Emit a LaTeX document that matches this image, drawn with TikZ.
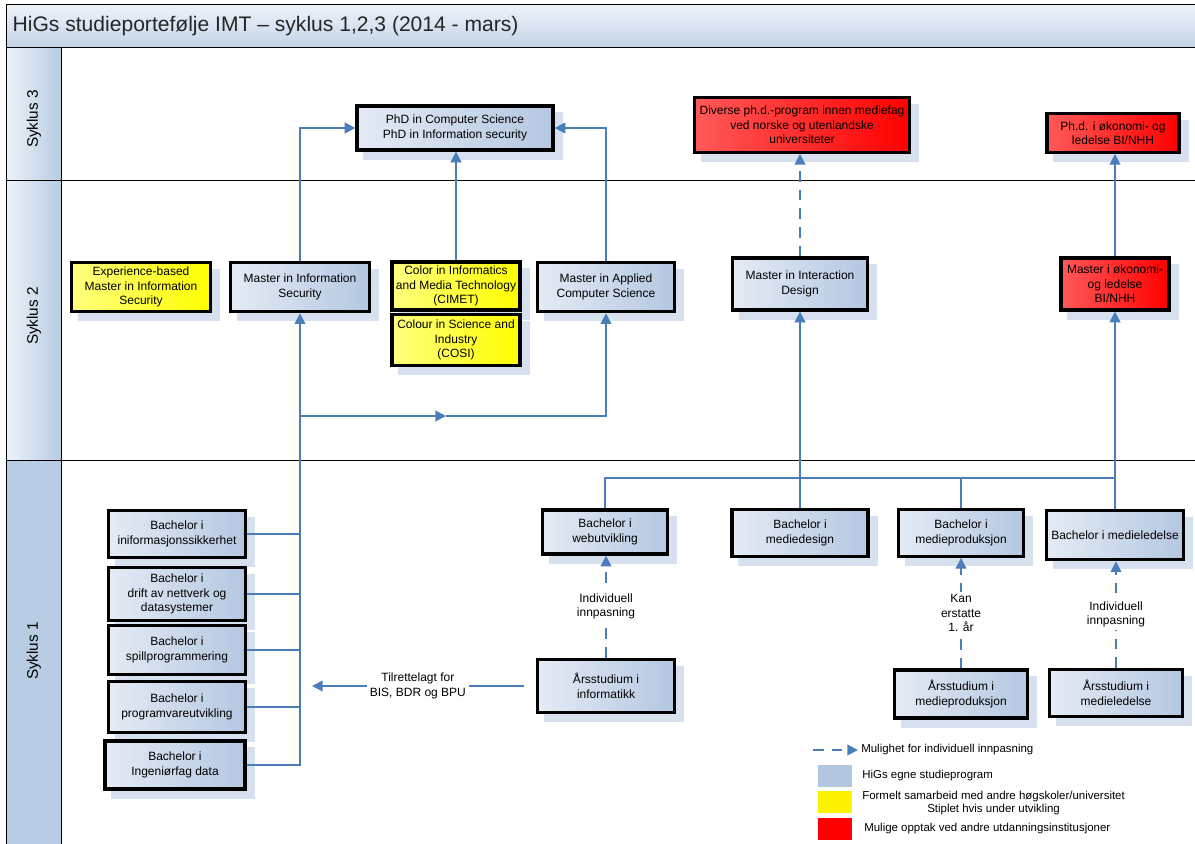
\documentclass[tikz,border=0pt]{standalone}
\usepackage{fontspec}
\setmainfont{Liberation Sans}
\usetikzlibrary{arrows.meta, positioning, backgrounds, calc}
\definecolor{progleft}{RGB}{228,235,245}
\definecolor{progright}{RGB}{180,199,225}
\definecolor{shadowblue}{RGB}{214,224,239}
\definecolor{flowblue}{RGB}{74,126,187}
\definecolor{laneblue}{RGB}{184,204,228}
\definecolor{titleblue}{RGB}{197,213,234}
\definecolor{legendblue}{RGB}{179,198,224}

\tikzset{
  box/.style={draw=black, line width=2.4pt, align=center, inner sep=1pt,
    font=\fontsize{9}{10.8}\selectfont},
  prog/.style={box, left color=progleft, right color=progright},
  coop/.style={box, left color=yellow!50!white, middle color=yellow, right color=yellow},
  ext/.style={box, left color=red!65!white, middle color=red, right color=red},
  link/.style={flowblue, line width=1.3pt},
  flow/.style={link, -{Triangle[length=8pt,width=8pt]}},
  maybe/.style={flow, dash pattern=on 8pt off 6pt},
  tag/.style={fill=white, text=black, align=center, inner sep=2pt, font=\fontsize{9}{10.8}\selectfont},
  lanelabel/.style={rotate=90, font=\fontsize{11.5}{13}\selectfont},
  legtext/.style={anchor=west, align=center, inner sep=0pt, font=\fontsize{8.6}{10.3}\selectfont},
  swatch/.style={minimum width=25.5pt, minimum height=16.5pt, inner sep=0pt},
}

\begin{document}
\begin{tikzpicture}[x=0.75pt, y=-0.75pt]
  \useasboundingbox (0,0) rectangle (1195,843);

  % Frame, title and lanes
  \draw[top color=titleblue!30!white, bottom color=titleblue] (6,4) rectangle (1210,47);
  \node[anchor=west, font=\fontsize{15.8}{18}\selectfont, text=black!85] (title) at (8,26) {HiGs studieportefølje IMT – syklus 1,2,3 (2014 - mars)};
  \draw[left color=laneblue!25!white, right color=laneblue] (6,47) rectangle (61,180);
  \draw[left color=laneblue!25!white, right color=laneblue] (6,180) rectangle (61,460);
  \draw[fill=laneblue] (6,460) rectangle (61,860);
  \draw (6,47) rectangle (1210,860);
  \draw (61,180) -- (1210,180);
  \draw (61,460) -- (1210,460);
  \node[lanelabel] (s3) at (34,119) {Syklus 3};
  \node[lanelabel] (s2) at (34,316) {Syklus 2};
  \node[lanelabel] (s1) at (34,651) {Syklus 1};

  % Syklus 3
  \node[prog, minimum width=147pt, minimum height=33pt] (phd) at (455,128) {PhD in Computer Science\\PhD in Information security};
  \node[ext, minimum width=161pt, minimum height=41pt] (phdmedia) at (802,125) {Diverse ph.d.-program innen mediefag\\ved norske og utenlandske\\universiteter};
  \node[ext, minimum width=99pt, minimum height=29pt] (phdeco) at (1113,133) {Ph.d. i økonomi- og\\ledelse BI/NHH};

  % Syklus 2
  \node[coop, minimum width=104pt, minimum height=37pt] (expmis) at (141,287) {Experience-based\\Master in Information\\Security};
  \node[prog, minimum width=104pt, minimum height=37pt] (mis) at (300,287) {Master in Information\\Security};
  \node[coop, minimum width=96pt, minimum height=36pt] (cimet) at (456,286) {Color in Informatics\\and Media Technology\\(CIMET)};
  \node[coop, minimum width=96pt, minimum height=38pt] (cosi) at (456,340) {Colour in Science and\\Industry\\(COSI)};
  \node[prog, minimum width=103pt, minimum height=37pt] (macs) at (606,287) {Master in Applied\\Computer Science};
  \node[prog, minimum width=101pt, minimum height=39pt] (mid) at (800,284) {Master in Interaction\\Design};
  \node[ext, minimum width=81pt, minimum height=39pt] (meco) at (1115,284) {Master i økonomi-\\og ledelse\\BI/NHH};

  % Syklus 1
  \node[prog, minimum width=103pt, minimum height=35pt] (bis) at (177,534) {Bachelor i\\iniformasjonssikkerhet};
  \node[prog, minimum width=103pt, minimum height=40pt] (bdr) at (177,594) {Bachelor i\\drift av nettverk og\\datasystemer};
  \node[prog, minimum width=103pt, minimum height=37pt] (bspill) at (177,650) {Bachelor i\\spillprogrammering};
  \node[prog, minimum width=103pt, minimum height=38pt] (bpu) at (177,707) {Bachelor i\\programvareutvikling};
  \node[prog, minimum width=105pt, minimum height=36pt] (bing) at (175,765) {Bachelor i\\Ingeniørfag data};
  \node[prog, minimum width=94pt, minimum height=33pt] (bweb) at (605,532) {Bachelor i\\webutvikling};
  \node[prog, minimum width=102pt, minimum height=35pt] (bdesign) at (800,533) {Bachelor i\\mediedesign};
  \node[prog, minimum width=94pt, minimum height=35pt] (bprod) at (961,533) {Bachelor i\\medieproduksjon};
  \node[prog, minimum width=103pt, minimum height=37pt] (bled) at (1115,535) {Bachelor i medieledelse};
  \node[prog, minimum width=103pt, minimum height=40pt] (ainf) at (606,686) {Årsstudium i\\informatikk};
  \node[prog, minimum width=100pt, minimum height=36pt] (aprod) at (961,694) {Årsstudium i\\medieproduksjon};
  \node[prog, minimum width=100pt, minimum height=35pt] (aled) at (1116,693) {Årsstudium i\\medieledelse};

  % Shadows behind the boxes
  \begin{scope}[on background layer]
    \foreach \n in {phd,phdmedia,phdeco,expmis,mis,cimet,cosi,macs,mid,meco,bis,bdr,bspill,bpu,bing,bweb,bdesign,bprod,bled,ainf,aprod,aled}
      \fill[shadowblue] ($(\n.south west)+(8,8)$) rectangle ($(\n.north east)+(8,8)$);
  \end{scope}

  % Paths to syklus 3
  \draw[flow] (mis.north) |- (phd.west);
  \draw[flow] (cimet.north) -- (cimet.north |- phd.south);
  \draw[flow] (macs.north) |- (phd.east);
  \draw[maybe] (mid.north) -- (mid.north |- phdmedia.south);
  \draw[flow] (meco.north) -- (meco.north |- phdeco.south);

  % Bachelor bus to master
  \draw[flow] (bing.east) -| (mis.south);
  \foreach \b in {bis,bdr,bspill,bpu}
    \draw[link] (\b.east) -- (\b.east -| mis.south);
  \coordinate (split) at (mis.south |- 0,416);
  \coordinate (half) at (446,416);
  \draw[flow] (split) -- (half);
  \draw[flow] (half) -| (macs.south);
  \draw[flow, shorten <=9pt, shorten >=9pt] (ainf.west) -- (ainf.west -| mis.south)
    node[tag, midway] (tilr) {Tilrettelagt for\\BIS, BDR og BPU};

  % Media bus
  \coordinate (busR) at (0,478);
  \draw[flow] (bdesign.north) -- (mid.south);
  \draw[flow] (bled.north) -- (bled.north |- meco.south);
  \draw[link] (bweb.north) |- (busR -| bled.north);
  \draw[link] (bprod.north) -- (bprod.north |- busR);

  % Individual entry
  \draw[maybe] (ainf.north) -- (ainf.north |- bweb.south) node[tag, midway] (ind1) {Individuell\\innpasning};
  \draw[maybe] (aprod.north) -- (bprod.south) node[tag, midway] (kan) {Kan\\erstatte\\1. år};
  \draw[maybe] (aled.north) -- (aled.north |- bled.south) node[tag, midway] (ind2) {Individuell\\innpasning};

  % Legend
  \coordinate (legA) at (813,750);
  \coordinate (legB) at (858,750);
  \draw[maybe] (legA) -- (legB);
  \node[legtext] (leg1) at (861,750) {Mulighet for individuell innpasning};
  \node[swatch, fill=legendblue] (sw1) at (835,776) {};
  \node[legtext] (leg2) at (862,776) {HiGs egne studieprogram};
  \node[swatch, fill=yellow] (sw2) at (835,802) {};
  \node[legtext] (leg3) at (862,803) {Formelt samarbeid med andre høgskoler/universitet\\Stiplet hvis under utvikling};
  \node[swatch, fill=red] (sw3) at (835,829) {};
  \node[legtext] (leg4) at (864,829) {Mulige opptak ved andre utdanningsinstitusjoner};
\end{tikzpicture}
\end{document}
